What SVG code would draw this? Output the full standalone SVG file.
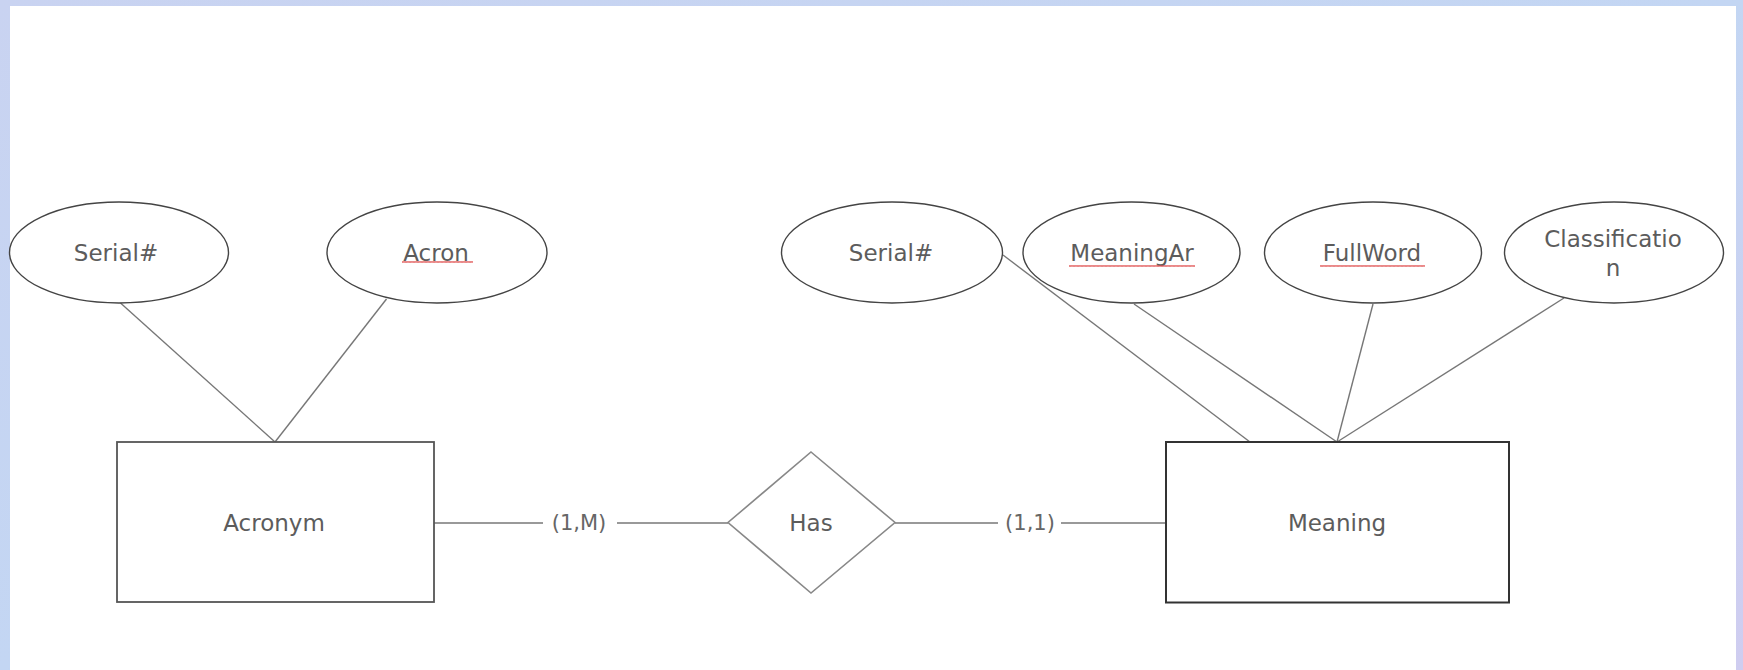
<svg xmlns="http://www.w3.org/2000/svg" width="1743" height="670" viewBox="0 0 1743 670">
<defs>
<pattern id="squig" width="4" height="4" patternUnits="userSpaceOnUse">
<path d="M0,3 L1,1 L2,3 L3,1 L4,3" fill="none" stroke="#e05050" stroke-width="0.8"/>
</pattern>
<linearGradient id="bg" x1="0" y1="0" x2="1" y2="1">
<stop offset="0" stop-color="#c9d3f1"/>
<stop offset="0.5" stop-color="#c3d6f3"/>
<stop offset="1" stop-color="#cfcdf0"/>
</linearGradient>
</defs>
<style>
.attr { fill: none; stroke: #444; stroke-width: 1.4; }
.ent { fill: #ffffff; stroke: #555; stroke-width: 1.8; }
.ent2 { fill: #ffffff; stroke: #333; stroke-width: 2; }
.rel { fill: #ffffff; stroke: #888; stroke-width: 1.6; }
.lbl { font-family: "DejaVu Sans", Verdana, sans-serif; font-size: 23px; fill: #5c5c5c; text-anchor: middle; }
.card { font-family: "DejaVu Sans", Verdana, sans-serif; font-size: 21px; fill: #666; text-anchor: middle; }
.conn line { stroke: #777; stroke-width: 1.4; }
</style>
<rect x="0" y="0" width="1743" height="670" fill="url(#bg)"/>
<rect x="10" y="6" width="1726" height="664" fill="#ffffff"/>

<g id="connectors" class="conn">
<line x1="120.5" y1="303" x2="275" y2="442"/>
<line x1="386.5" y1="299" x2="275" y2="442"/>
<line x1="434" y1="523" x2="543" y2="523"/>
<line x1="617" y1="523" x2="728" y2="523"/>
<line x1="895" y1="523" x2="998" y2="523"/>
<line x1="1061" y1="523" x2="1166" y2="523"/>
<line x1="1003" y1="255" x2="1250" y2="442"/>
<line x1="1134" y1="304" x2="1337" y2="442"/>
<line x1="1373" y1="304" x2="1337" y2="442"/>
<line x1="1564" y1="298" x2="1337" y2="442"/>
<text class="card" x="579" y="530">(1,M)</text>
<text class="card" x="1030" y="530">(1,1)</text>
</g>

<g id="attr-serial-acronym">
<ellipse class="attr" cx="119" cy="252.5" rx="109.5" ry="50.5"/>
<text class="lbl" x="116" y="261">Serial#</text>
</g>
<g id="attr-acron">
<ellipse class="attr" cx="437" cy="252.5" rx="110" ry="50.5"/>
<text class="lbl" x="436" y="261">Acron</text>
<rect x="402" y="261" width="71" height="4" fill="url(#squig)"/>
</g>
<g id="attr-serial-meaning">
<ellipse class="attr" cx="892" cy="252.5" rx="110.5" ry="50.5"/>
<text class="lbl" x="891" y="261">Serial#</text>
</g>
<g id="attr-meaningar">
<ellipse class="attr" cx="1131.5" cy="252.5" rx="108.5" ry="50.5"/>
<text class="lbl" x="1132" y="261">MeaningAr</text>
<rect x="1069" y="263" width="126" height="4" fill="url(#squig)"/>
</g>
<g id="attr-fullword">
<ellipse class="attr" cx="1373" cy="252.5" rx="108.5" ry="50.5"/>
<text class="lbl" x="1372" y="261">FullWord</text>
<rect x="1320" y="263" width="105" height="4" fill="url(#squig)"/>
</g>
<g id="attr-classification">
<ellipse class="attr" cx="1614" cy="252.5" rx="109.5" ry="50.5"/>
<text class="lbl" x="1613" y="247">Classificatio</text>
<text class="lbl" x="1613" y="276">n</text>
</g>

<g id="entity-acronym">
<rect class="ent" x="117" y="442" width="317" height="160"/>
<text class="lbl" x="274" y="531">Acronym</text>
</g>
<g id="relationship-has">
<polygon class="rel" points="811,452 895,522.5 811,593 728,522.5"/>
<text class="lbl" x="811" y="531">Has</text>
</g>
<g id="entity-meaning">
<rect class="ent2" x="1166" y="442" width="343" height="160.5"/>
<text class="lbl" x="1337" y="531">Meaning</text>
</g>
</svg>
